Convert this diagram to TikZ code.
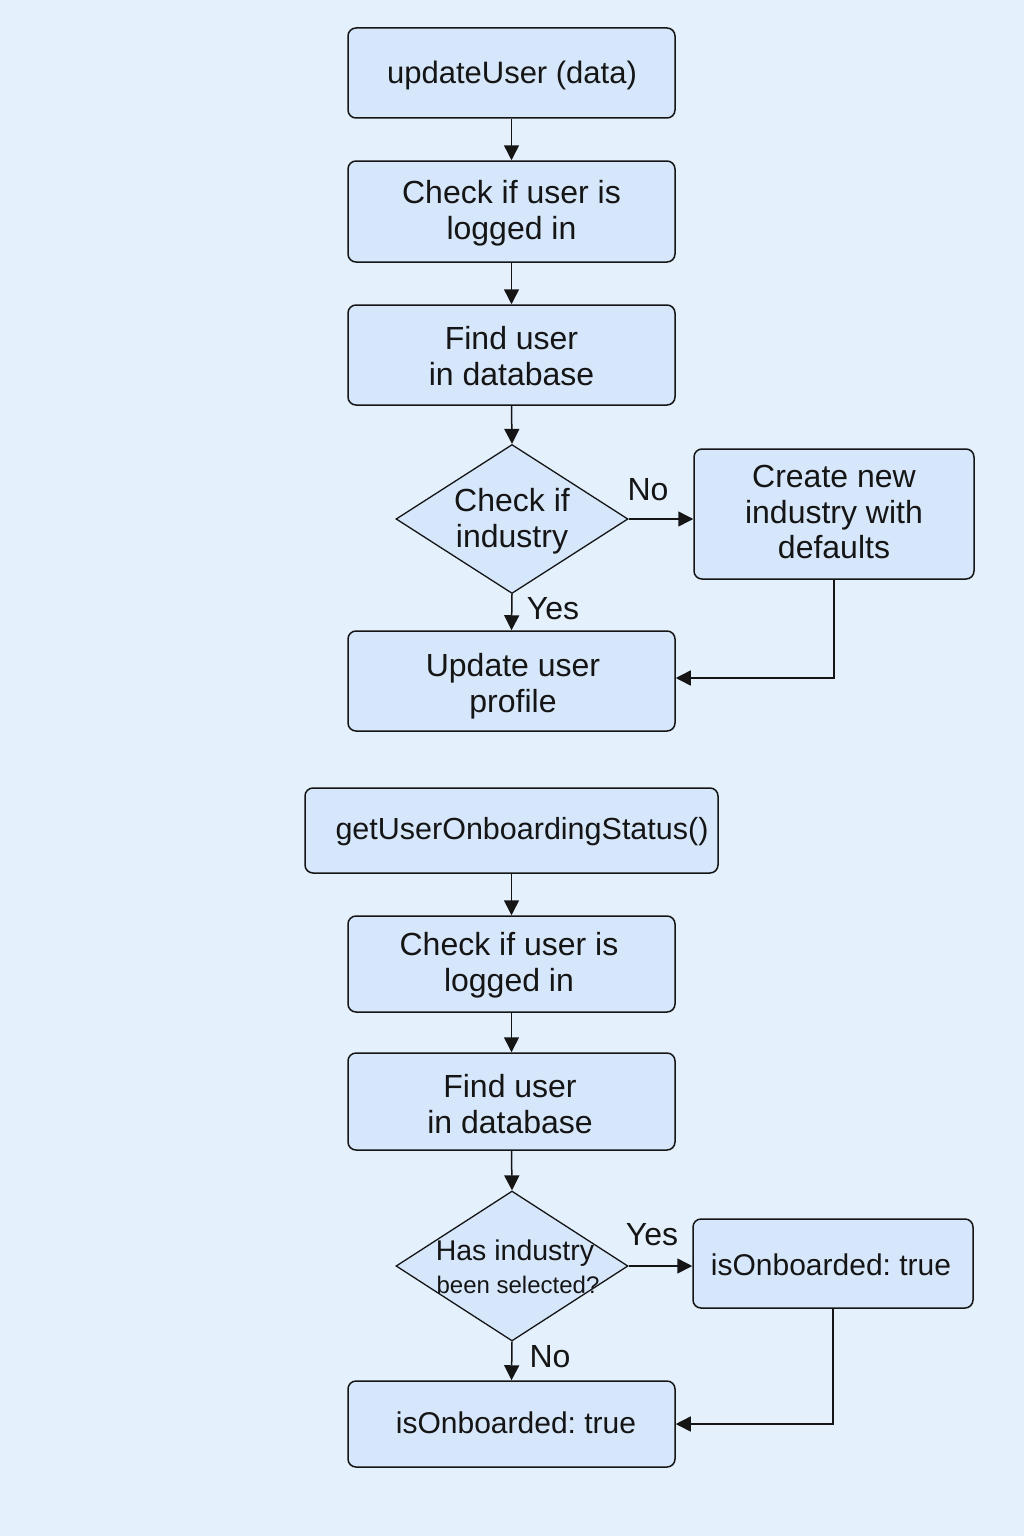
\documentclass[tikz,border=0pt]{standalone}
\usepackage{fontspec}
\setmainfont{Liberation Sans}
\usetikzlibrary{arrows.meta,shapes.geometric}
\definecolor{bg}{HTML}{E4F0FC}
\definecolor{boxfill}{HTML}{D6E7FB}
\definecolor{ink}{HTML}{151515}
\frenchspacing
\begin{document}
\begin{tikzpicture}[x=1pt,y=-1pt,
  box/.style={draw=ink, fill=boxfill, rounded corners=8pt, line width=1.5pt, inner sep=0pt},
  txt/.style={align=center, font=\fontsize{32}{36}\selectfont, text=ink, inner sep=0pt},
  dia/.style={draw=ink, fill=boxfill, diamond, line width=1.3pt, inner sep=0pt,
    minimum width=232pt, minimum height=149pt, aspect=1.557},
  arr/.style={draw=ink, line width=1.5pt, -{Triangle[length=15pt,width=15pt]}},
  lbl/.style={font=\fontsize{32}{36}\selectfont, text=ink, inner sep=0pt}]

\path[fill=bg] (0,0) rectangle (1024,1536);
\useasboundingbox (0,0) rectangle (1024,1536);

% ---- first flow ----
\node[box, minimum width=327pt, minimum height=90pt] (n1) at (511.5,73) {};
\node[txt, font=\fontsize{31}{36}\selectfont] (n1t) at (512,75) {updateUser (data)};
\node[box, minimum width=327pt, minimum height=101pt] (n2) at (511.5,211.5) {};
\node[txt] (n2t) at (511.5,213) {Check if user is\\logged in};
\node[box, minimum width=327pt, minimum height=100pt] (n3) at (511.5,355) {};
\node[txt] (n3t) at (511.5,356) {Find user\\in database};
\node[dia] (d1) at (512,519) {};
\node[txt] (t1) at (512,521) {Check if\\industry};
\node[box, minimum width=280pt, minimum height=130pt] (n5) at (834,514) {};
\node[txt, font=\fontsize{32}{35.5}\selectfont] (n5t) at (834,512) {Create new\\industry with\\defaults};
\node[box, minimum width=327pt, minimum height=100pt] (n6) at (511.5,681) {};
\node[txt] (n6t) at (513,686) {Update user\\profile};

\draw[arr] (n1.south) -- (n2.north);
\draw[arr] (n2.south) -- (n3.north);
\draw[arr] (n3.south) -- (d1.north);
\draw[arr] (d1.east) -- (d1.east -| n5.west);
\draw[arr] (d1.south) -- (n6.north);
\draw[arr] (n5.south) |- ([yshift=3pt]n6.east);
\node[lbl] (l1) at (648,490) {No};
\node[lbl] (l2) at (553,609) {Yes};

% ---- second flow ----
\node[box, minimum width=413pt, minimum height=85pt] (n7) at (511.5,830.5) {};
\node[txt, font=\fontsize{30.5}{36}\selectfont] (n7t) at (522,832) {getUserOnboardingStatus()};
\node[box, minimum width=327pt, minimum height=96pt] (n8) at (511.5,964) {};
\node[txt] (n8t) at (509,965.5) {Check if user is\\logged in};
\node[box, minimum width=327pt, minimum height=97pt] (n9) at (511.5,1101.5) {};
\node[txt] (n9t) at (510,1104) {Find user\\in database};
\node[dia, minimum height=150pt] (d2) at (512,1266) {};
\node[text=ink, inner sep=0pt, font=\fontsize{28.5}{32}\selectfont] (t2a) at (515,1253) {Has industry};
\node[text=ink, inner sep=0pt, font=\fontsize{24}{28}\selectfont] (t2b) at (518,1285) {been selected?};
\node[box, minimum width=280pt, minimum height=89pt] (n11) at (833,1263.5) {};
\node[txt, font=\fontsize{30}{36}\selectfont] (n11t) at (831,1265) {isOnboarded: true};
\node[box, minimum width=327pt, minimum height=86pt] (n12) at (511.5,1424) {};
\node[txt, font=\fontsize{30}{36}\selectfont] (n12t) at (516,1423) {isOnboarded: true};

\draw[arr] (n7.south) -- (n8.north);
\draw[arr] (n8.south) -- (n9.north);
\draw[arr] (n9.south) -- (d2.north);
\draw[arr] (d2.east) -- (d2.east -| n11.west);
\draw[arr] (d2.south) -- (n12.north);
\draw[arr] (n11.south) |- (n12.east);
\node[lbl] (l3) at (652,1235) {Yes};
\node[lbl] (l4) at (550,1357) {No};
\end{tikzpicture}
\end{document}
